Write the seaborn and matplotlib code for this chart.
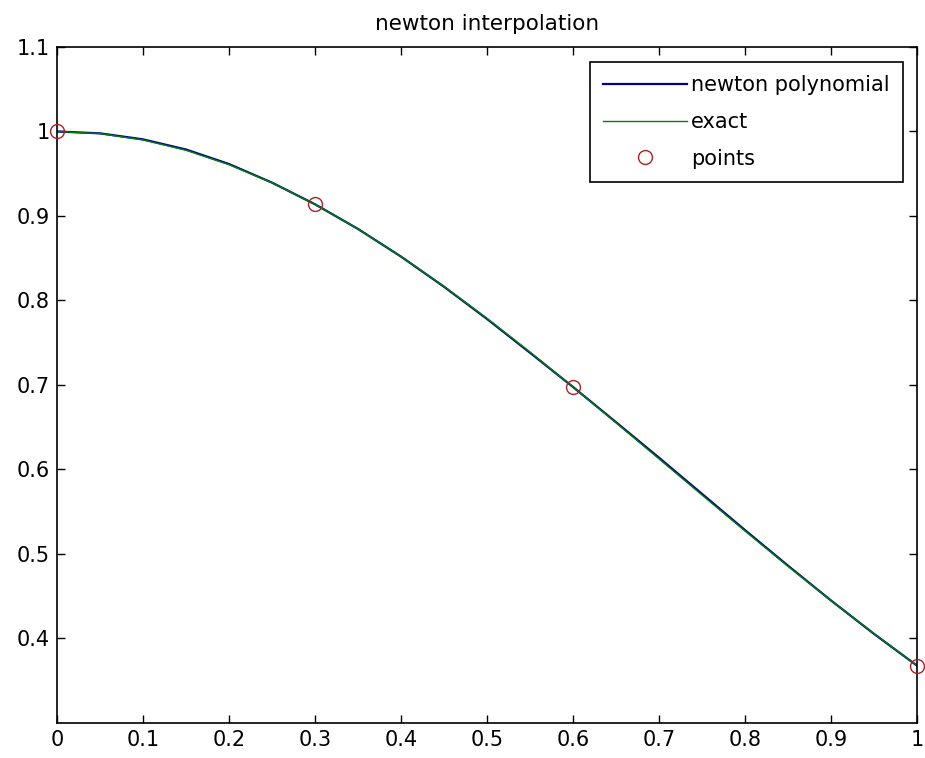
import pandas as pd
import matplotlib
matplotlib.use('Agg')
import matplotlib.pyplot as plt
import seaborn as sns

# Datos
x_curve = [0.0, 0.05, 0.1, 0.15, 0.2, 0.25, 0.3, 0.35, 0.4, 0.45, 0.5,
           0.55, 0.6, 0.65, 0.7, 0.75, 0.8, 0.85, 0.9, 0.95, 1.0]
y_newton = [1.000, 0.9978, 0.9907, 0.9787, 0.9615, 0.9395, 0.9139, 0.8847, 0.8520, 0.8163, 0.7782,
            0.7382, 0.6977, 0.6560, 0.6140, 0.5712, 0.5283, 0.4862, 0.4450, 0.4055, 0.3679]
y_exact = [1.000, 0.9975, 0.9900, 0.9778, 0.9608, 0.9394, 0.9139, 0.8847, 0.8521, 0.8167, 0.7788,
           0.7390, 0.6977, 0.6554, 0.6126, 0.5698, 0.5273, 0.4855, 0.4449, 0.4057, 0.3679]
x_points = [0.0, 0.3, 0.6, 1.0]
y_points = [1.000, 0.9139, 0.6977, 0.3679]

curve_df = pd.DataFrame({'x': x_curve, 'newton': y_newton, 'exact': y_exact})
points_df = pd.DataFrame({'x': x_points, 'y': y_points})

plt.rcParams['font.family'] = ['DejaVu Sans']

fig = plt.figure(figsize=(9.25, 7.58), dpi=100)
ax = fig.add_axes([0.0616, 0.0462, 0.9297, 0.8918])

sns.lineplot(data=curve_df, x='x', y='newton', ax=ax, color='#000090', linewidth=1.6,
             label='newton polynomial', sort=False)
sns.lineplot(data=curve_df, x='x', y='exact', ax=ax, color='#008000', linewidth=1.0,
             label='exact', sort=False)
ax.plot(points_df['x'], points_df['y'], linestyle='none', marker='o', markersize=10,
        markerfacecolor='none', markeredgecolor='#b02020', markeredgewidth=1.0,
        label='points', clip_on=False, zorder=5)

ax.set_xlim(0, 1)
ax.set_ylim(0.3, 1.1)
ax.set_xticks([i / 10 for i in range(11)])
ax.set_xticklabels(['0', '0.1', '0.2', '0.3', '0.4', '0.5', '0.6', '0.7', '0.8', '0.9', '1'])
ax.set_yticks([0.4, 0.5, 0.6, 0.7, 0.8, 0.9, 1.0, 1.1])
ax.set_yticklabels(['0.4', '0.5', '0.6', '0.7', '0.8', '0.9', '1', '1.1'])
ax.tick_params(direction='in', top=True, right=True, length=6, width=1, labelsize=15, pad=5)
for s in ax.spines.values():
    s.set_linewidth(1.2)
ax.set_xlabel('')
ax.set_ylabel('')
ax.set_title('newton interpolation', fontsize=15.5, pad=12)

leg = ax.legend(loc='upper right', bbox_to_anchor=(0.9837, 0.978), fontsize=15, handlelength=4.0,
                frameon=True, fancybox=False, framealpha=1, edgecolor='black',
                borderpad=0.65, labelspacing=0.8, handletextpad=0.2, borderaxespad=0)
leg.get_frame().set_linewidth(1.2)

fig.savefig('out.png', dpi=100)
